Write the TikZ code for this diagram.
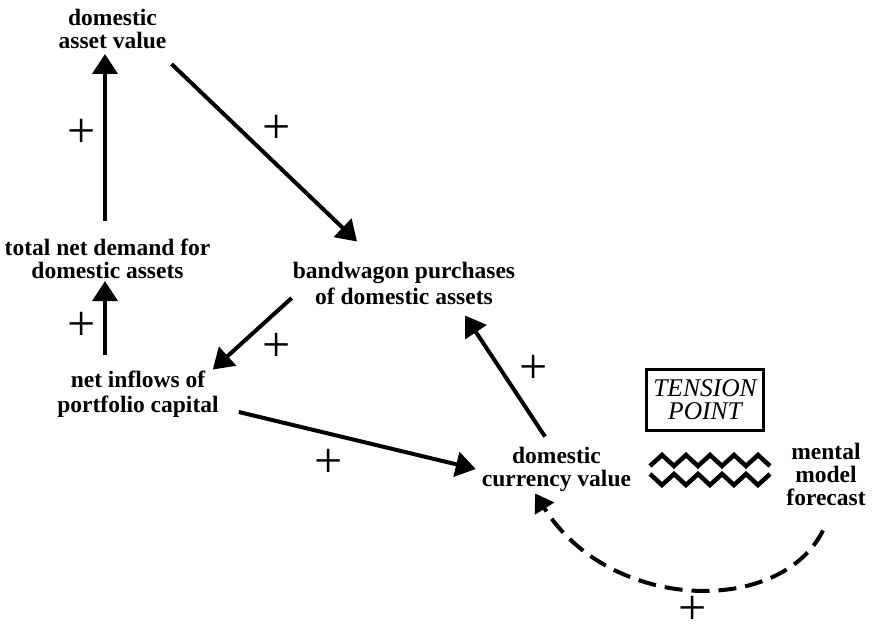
\documentclass[tikz,border=0pt]{standalone}
\usepackage{fontspec}
\setmainfont{Liberation Serif}
\usetikzlibrary{arrows.meta}

\tikzset{
  var/.style={align=center, inner sep=0pt, font=\bfseries\fontsize{23.5}{23}\selectfont},
  sign/.style={inner sep=0pt, font=\fontsize{50}{50}\selectfont},
  link/.style={line width=4pt, -{Triangle[length=20pt,width=25pt]}},
  expect/.style={line width=4pt, dash pattern=on 18pt off 9pt, -{Triangle[length=18pt,width=22pt]}},
  tensionbox/.style={draw, line width=3pt, minimum width=117pt, minimum height=61pt, align=center, inner sep=0pt, font=\itshape\fontsize{25.5}{23}\selectfont},
}

\begin{document}
\begin{tikzpicture}[x=1pt,y=-1pt]
\useasboundingbox (0,0) rectangle (874,626);

% Define nodes
\node[var] (asset)     at (112.5,29)  {domestic\\asset value};
\node[var] (demand)    at (107.5,258.5) {total net demand for\\domestic assets};
\node[var] (bandwagon) at (404,283)   {bandwagon purchases\\[3pt]of domestic assets};
\node[var] (inflows)   at (138,394)   {net inflows of\\[2pt]portfolio capital};
\node[var] (currency)  at (556.5,469) {domestic\\currency value};
\node[var] (forecast)  at (826,474)   {mental\\model\\forecast};
\node[tensionbox] (point) at (705,400) {TENSION\\POINT};

% Signs
\foreach \x/\y [count=\i] in {82/133, 277/129, 82/326, 277/347, 329/463, 534/369, 693/610}
  \node[sign] (plus\i) at (\x,\y) {+};

% Connect the nodes
\draw[link] ([shift={(-2.5,-17)}]demand.north) -- ([shift={(-7.5,5)}]asset.south);
\draw[link] ([shift={(5,15)}]asset.south east) -- ([shift={(-47,-20)}]bandwagon.north);
\draw[link] ([shift={(-1,15)}]bandwagon.west) -- ([shift={(-6,-1)}]inflows.north east);
\draw[link] ([shift={(-33,-16)}]inflows.north) -- ([shift={(-2.5,2.5)}]demand.south);
\draw[link] ([shift={(20,18)}]inflows.east) -- ([shift={(-6,0)}]currency.west);
\draw[link] ([shift={(-11.5,-10)}]currency.north) -- ([shift={(61,11)}]bandwagon.south);
\draw[expect] ([shift={(-3,25)}]forecast.south) .. controls +(-43,86) and +(75,119) .. ([shift={(-21.5,2)}]currency.south);

% Tension waves
\draw[line width=4.5pt] (650,466) \foreach \i in {1,...,5} { -- ++(12,-11) -- ++(12,11) };
\draw[line width=4.5pt] (650,474) \foreach \i in {1,...,5} { -- ++(12,11) -- ++(12,-11) };

\end{tikzpicture}
\end{document}
